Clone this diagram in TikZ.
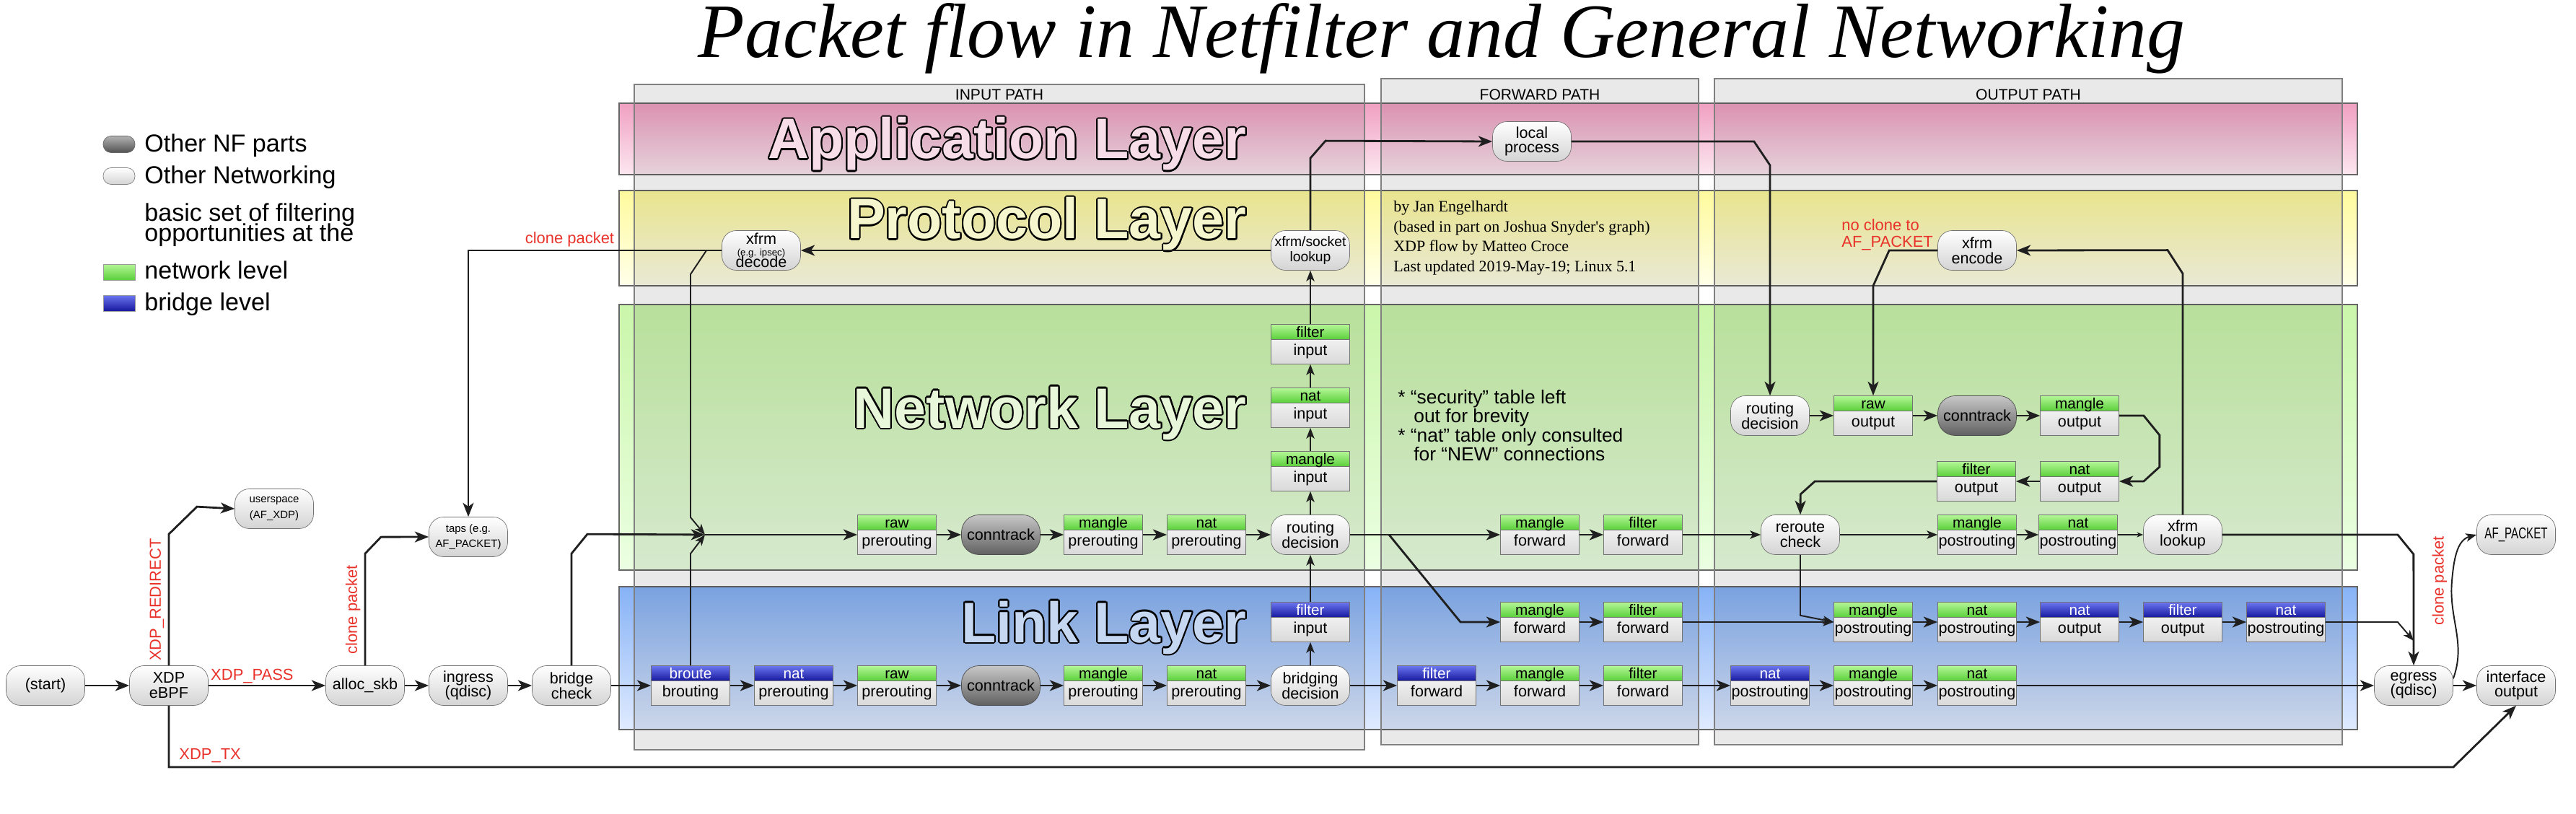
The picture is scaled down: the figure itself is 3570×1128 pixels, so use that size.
\documentclass[tikz,border=0pt]{standalone}
\usepackage{fontspec}
\setmainfont{Liberation Sans}
\newfontfamily\serifface{Liberation Serif}
\usepackage{graphicx}
\usepackage{contour}
\usetikzlibrary{arrows.meta,positioning}

\definecolor{xdpred}{HTML}{E8322A}
\definecolor{nftop}{HTML}{B4F696}
\definecolor{nfbot}{HTML}{5ACF3A}
\definecolor{brtop}{HTML}{6C76F0}
\definecolor{brbot}{HTML}{16189E}
\definecolor{appltop}{HTML}{F0A0C2}
\definecolor{applbot}{HTML}{FCE7F0}
\definecolor{applfont}{HTML}{F7DDE8}
\definecolor{prottop}{HTML}{FFFA9C}
\definecolor{protbot}{HTML}{FFFFEA}
\definecolor{protfont}{HTML}{F5F5CE}
\definecolor{nettop}{HTML}{CAF6AA}
\definecolor{netbot}{HTML}{EBFFE2}
\definecolor{netfont}{HTML}{E8F6DA}
\definecolor{linktop}{HTML}{86B2F6}
\definecolor{linkbot}{HTML}{E0EBFF}
\definecolor{linkfont}{HTML}{C6D7F2}

\contourlength{1.15pt}

\tikzset{
  pill/.style={rectangle, rounded corners=0.4cm, draw=black!55, top color=white, bottom color=black!17,
    minimum width=2.18cm, minimum height=1.1cm, inner sep=1pt, align=center,
    font=\fontsize{12.3pt}{11.8pt}\selectfont},
  smallpill/.style={pill, font=\fontsize{8.5pt}{12pt}\selectfont},
  nfpart/.style={pill, rounded corners=0.48cm, draw=black!70, top color=black!22, bottom color=black!62},
  hookbody/.style={rectangle, draw=black!55, top color=white, bottom color=black!15,
    minimum width=2.18cm, inner xsep=0.5pt, inner ysep=0pt, text height=0.86cm, text depth=0.24cm,
    font=\fontsize{12.3pt}{12.3pt}\selectfont},
  hookhead/.style={rectangle, draw=black!55, anchor=north, minimum width=2.18cm, minimum height=0.42cm,
    inner sep=0pt, text height=0.36cm, text depth=0.06cm, font=\fontsize{11.8pt}{11.8pt}\selectfont},
  nfhead/.style={hookhead, top color=nftop, bottom color=nfbot},
  brhead/.style={hookhead, top color=brtop, bottom color=brbot, text=white},
  mainflow/.style={draw=black!88, line width=1.6pt, -{Stealth[length=11pt,width=8.5pt,inset=3pt]}},
  sideflow/.style={draw=black!88, line width=1.1pt, -{Stealth[length=8.5pt,width=6.5pt,inset=2.2pt]}},
  slimflow/.style={draw=black!88, line width=0.6pt, -{Stealth[length=5pt,width=4pt]}},
  xdplabel/.style={text=xdpred, font=\fontsize{12.5pt}{12.5pt}\selectfont, inner sep=0pt},
  panel/.style={fill=black, fill opacity=0.085, draw=black!50, line width=0.7pt},
  bandline/.style={draw=black!60, line width=0.8pt},
  layertitle/.style={anchor=base east, inner sep=0pt, font=\fontsize{45pt}{45pt}\selectfont\bfseries},
  pathhead/.style={anchor=base, inner sep=0pt, font=\fontsize{12pt}{12pt}\selectfont},
  notetext/.style={anchor=base west, inner sep=0pt, font=\fontsize{15pt}{15pt}\selectfont},
  authortext/.style={anchor=base west, inner sep=0pt, font=\serifface\fontsize{12.5pt}{12.5pt}\selectfont},
  legtext/.style={anchor=base west, inner sep=0pt, font=\fontsize{19.4pt}{19.4pt}\selectfont},
  legpill/.style={rectangle, rounded corners=0.22cm, draw=black!50, top color=white, bottom color=black!17,
    minimum width=0.88cm, minimum height=0.46cm, inner sep=0pt},
  legbox/.style={rectangle, draw=black!40, minimum width=0.88cm, minimum height=0.44cm, inner sep=0pt},
}

% #1 name, #2 position, #3 table, #4 chain, #5 header style
\newcommand{\chainbox}[5]{%
  \node[hookbody] (#1) at (#2) {#4};
  \node[#5] (#1-t) at (#1.north) {#3};}

\begin{document}
\begin{tikzpicture}[x=0.02cm,y=-0.02cm]
\useasboundingbox (0,0) rectangle (3570,1128);

% layer bands
\shade[top color=appltop, bottom color=applbot] (858,143) rectangle (3267,242);
\draw[bandline] (858,143) rectangle (3267,242);
\shade[top color=prottop, bottom color=protbot] (858,264) rectangle (3267,396);
\draw[bandline] (858,264) rectangle (3267,396);
\shade[top color=nettop, bottom color=netbot] (858,422) rectangle (3267,790);
\draw[bandline] (858,422) rectangle (3267,790);
\shade[top color=linktop, bottom color=linkbot] (858,813) rectangle (3267,1011);
\draw[bandline] (858,813) rectangle (3267,1011);

% path columns
\filldraw[panel] (879,117) rectangle (1891,1039);
\filldraw[panel] (1914,109) rectangle (2354,1032);
\filldraw[panel] (2376,109) rectangle (3246,1032);
\node[pathhead] (inhead) at (1385,139) {INPUT PATH};
\node[pathhead] (fwdhead) at (2134,139) {FORWARD PATH};
\node[pathhead] (outhead) at (2811,139) {OUTPUT PATH};

% layer names
\node[layertitle] (applayer) at (1728,220) {\color{applfont}\contour{black}{Application Layer}};
\node[layertitle] (protlayer) at (1728,331) {\color{protfont}\contour{black}{Protocol Layer}};
\node[layertitle] (netlayer) at (1728,593) {\color{netfont}\contour{black}{Network Layer}};
\node[layertitle] (linklayer) at (1728,890) {\color{linkfont}\contour{black}{Link Layer}};

% title
\node[anchor=base, inner sep=0pt] (title) at (1998,80)
  {\resizebox{41.2cm}{1.5cm}{\serifface\itshape Packet flow in Netfilter and General Networking}};

% legend
\node[legpill, top color=black!30, bottom color=black!68, draw=black!60] (legnf) at (165,200) {};
\node[legtext] (legnftext) at (200,211) {Other NF parts};
\node[legpill] (legnet) at (165,244) {};
\node[legtext] (legnettext) at (200,255) {Other Networking};
\node[legtext] (legbasic) at (200,307) {basic set of filtering};
\node[legtext] (legopp) at (200,335) {opportunities at the};
\node[legbox, top color=nftop, bottom color=nfbot] (legnetlvl) at (165,377) {};
\node[legtext] (legnetlvltext) at (200,387) {network level};
\node[legbox, top color=brtop, bottom color=brbot] (legbrlvl) at (165,420) {};
\node[legtext] (legbrlvltext) at (200,431) {bridge level};

% notes
\node[authortext] (au1) at (1931,294) {by Jan Engelhardt};
\node[authortext] (au2) at (1931,322) {(based in part on Joshua Snyder's graph)};
\node[authortext] (au3) at (1931,349) {XDP flow by Matteo Croce};
\node[authortext] (au4) at (1931,377) {Last updated 2019-May-19; Linux 5.1};
\node[notetext] (note1) at (1937,559) {* “security” table left};
\node[notetext] (note2) at (1959,585) {out for brevity};
\node[notetext] (note3) at (1937,612) {* “nat” table only consulted};
\node[notetext] (note4) at (1959,638) {for “NEW” connections};
\node[xdplabel, anchor=base west] (noclone1) at (2552,320) {no clone to};
\node[xdplabel, anchor=base west] (noclone2) at (2552,343) {AF\_PACKET};

% ingress side
\node[pill] (start) at (63,950) {(start)};
\node[pill] (xdp) at (234,950) {XDP\\eBPF};
\node[pill] (alloc) at (506,950) {alloc\_skb};
\node[pill] (ingress) at (649,950) {ingress\\(qdisc)};
\node[pill] (brcheck) at (792,950) {bridge\\check};
\node[smallpill] (userspace) at (380,705) {userspace\\(AF\_XDP)};
\node[smallpill] (taps) at (649,744) {taps (e.g.\\AF\_PACKET)};

% input path
\chainbox{broute}{957,950}{broute}{brouting}{brhead}
\chainbox{lnatpre}{1100,950}{nat}{prerouting}{brhead}
\chainbox{lrawpre}{1243,950}{raw}{prerouting}{nfhead}
\node[nfpart] (lct) at (1387,950) {conntrack};
\chainbox{lmanglepre}{1529,950}{mangle}{prerouting}{nfhead}
\chainbox{lnatpre2}{1672,950}{nat}{prerouting}{nfhead}
\node[pill] (bridging) at (1816,950) {bridging\\decision};
\chainbox{lfilterin}{1816,862}{filter}{input}{brhead}
\chainbox{nrawpre}{1243,741}{raw}{prerouting}{nfhead}
\node[nfpart] (nct) at (1387,741) {conntrack};
\chainbox{nmanglepre}{1529,741}{mangle}{prerouting}{nfhead}
\chainbox{nnatpre}{1672,741}{nat}{prerouting}{nfhead}
\node[pill] (rtdec) at (1816,741) {routing\\decision};
\chainbox{nmanglein}{1816,653}{mangle}{input}{nfhead}
\chainbox{nnatin}{1816,565}{nat}{input}{nfhead}
\chainbox{nfilterin}{1816,477}{filter}{input}{nfhead}
\node[pill, font=\fontsize{11pt}{11.8pt}\selectfont] (lookup) at (1816,347) {xfrm/socket\\lookup};
\node[pill] (decode) at (1055,347)
  {xfrm\\[-2.6pt]{\fontsize{7.5pt}{7.5pt}\selectfont (e.g. ipsec)}\\[-2.6pt]decode};
\node[pill] (local) at (2123,196) {local\\process};

% forward path
\chainbox{nmanglefwd}{2134,741}{mangle}{forward}{nfhead}
\chainbox{nfilterfwd}{2277,741}{filter}{forward}{nfhead}
\chainbox{lmanglefwd}{2134,862}{mangle}{forward}{nfhead}
\chainbox{lfilterfwd}{2277,862}{filter}{forward}{nfhead}
\chainbox{bfilterfwd}{1991,950}{filter}{forward}{brhead}
\chainbox{bmanglefwd}{2134,950}{mangle}{forward}{nfhead}
\chainbox{bfilterfwd2}{2277,950}{filter}{forward}{nfhead}

% output path
\node[pill] (ortdec) at (2453,576) {routing\\decision};
\chainbox{orawout}{2596,576}{raw}{output}{nfhead}
\node[nfpart] (oct) at (2740,576) {conntrack};
\chainbox{omangleout}{2882,576}{mangle}{output}{nfhead}
\chainbox{onatout}{2882,667}{nat}{output}{nfhead}
\chainbox{ofilterout}{2739,667}{filter}{output}{nfhead}
\node[pill] (reroute) at (2495,741) {reroute\\check};
\chainbox{omanglepost}{2740,741}{mangle}{postrouting}{nfhead}
\chainbox{onatpost}{2880,741}{nat}{postrouting}{nfhead}
\node[pill] (xlookup) at (3025,741) {xfrm\\lookup};
\node[pill] (encode) at (2740,347) {xfrm\\encode};
\chainbox{lmanglepost}{2596,862}{mangle}{postrouting}{nfhead}
\chainbox{lnatpost}{2740,862}{nat}{postrouting}{nfhead}
\chainbox{lnatout}{2882,862}{nat}{output}{brhead}
\chainbox{lfilterout}{3025,862}{filter}{output}{brhead}
\chainbox{lnatpost2}{3168,862}{nat}{postrouting}{brhead}
\chainbox{bnatpost}{2453,950}{nat}{postrouting}{brhead}
\chainbox{bmanglepost}{2596,950}{mangle}{postrouting}{nfhead}
\chainbox{bnatpost2}{2740,950}{nat}{postrouting}{nfhead}
\node[pill] (egress) at (3345,950) {egress\\(qdisc)};
\node[pill] (ifout) at (3487,950) {interface\\output};
\node[pill] (afpacket) at (3487,741) {\scalebox{0.7}[1]{AF\_PACKET}};

\coordinate (dsplit) at (979,347);
\coordinate (merge) at (977,741);
\coordinate (fsplit) at (1925,741);
\coordinate (egjoin) at (3345,888);

% XDP and ingress
\draw[mainflow] (start) -- (xdp);
\draw[mainflow] (xdp) -- (alloc)
  node[xdplabel, pos=0, anchor=base west, xshift=0.04cm, yshift=0.16cm] {XDP\_PASS};
\draw[mainflow] (xdp.north) -- ++(0,-182)
  node[xdplabel, midway, rotate=90, anchor=south, inner sep=3pt] {XDP\_REDIRECT}
  -- ++(39,-38) -- (userspace.west);
\draw[mainflow] (xdp.south) |- (3400,1063)
  node[xdplabel, pos=0.5, anchor=south west, xshift=0.26cm, yshift=0.1cm] {XDP\_TX}
  -- (ifout.south);
\draw[mainflow] (alloc) -- (ingress);
\draw[mainflow] (ingress) -- (brcheck);
\draw[mainflow] (alloc.north) -- ++(0,-155)
  node[xdplabel, midway, rotate=90, anchor=south, inner sep=3pt] {clone packet}
  -- ++(22,-23) -- (taps.west);
\draw[mainflow] (decode.west) -| (taps.north)
  node[xdplabel, pos=0.3, anchor=south, inner sep=2pt] {clone packet};

% input path
\draw[sideflow] (dsplit) -- ++(-22,33) -- ++(0,337) -- (merge);
\draw[mainflow] (brcheck.north) -- ++(0,-155) -- ++(22,-27) -- (merge);
\draw[sideflow] (broute.north) -- ++(0,-155) -- (merge);
\draw[mainflow] (merge) -- (nrawpre);
\draw[mainflow] (nrawpre) -- (nct);
\draw[mainflow] (nct) -- (nmanglepre);
\draw[mainflow] (nmanglepre) -- (nnatpre);
\draw[mainflow] (nnatpre) -- (rtdec);
\draw[sideflow] (rtdec) -- (nmanglein);
\draw[sideflow] (nmanglein) -- (nnatin);
\draw[sideflow] (nnatin) -- (nfilterin);
\draw[sideflow] (nfilterin) -- (lookup);
\draw[mainflow] (lookup) -- (decode);
\draw[mainflow] (lookup.north) -- ++(0,-100) -- ++(21,-24) -- (local.west);
\draw[mainflow] (brcheck) -- (broute);
\draw[mainflow] (broute) -- (lnatpre);
\draw[mainflow] (lnatpre) -- (lrawpre);
\draw[mainflow] (lrawpre) -- (lct);
\draw[mainflow] (lct) -- (lmanglepre);
\draw[mainflow] (lmanglepre) -- (lnatpre2);
\draw[mainflow] (lnatpre2) -- (bridging);
\draw[sideflow] (bridging) -- (lfilterin);
\draw[sideflow] (lfilterin) -- (rtdec);

% forward path
\draw[mainflow] (rtdec) -- (nmanglefwd);
\draw[mainflow] (fsplit) -- ++(99,121) -- (lmanglefwd.west);
\draw[mainflow] (nmanglefwd) -- (nfilterfwd);
\draw[sideflow] (nfilterfwd) -- (reroute);
\draw[mainflow] (lmanglefwd) -- (lfilterfwd);
\draw[sideflow] (lfilterfwd) -- (lmanglepost);
\draw[mainflow] (bridging) -- (bfilterfwd);
\draw[mainflow] (bfilterfwd) -- (bmanglefwd);
\draw[mainflow] (bmanglefwd) -- (bfilterfwd2);
\draw[mainflow] (bfilterfwd2) -- (bnatpost);

% output path
\draw[mainflow] (local.east) -- ++(253,0) -- (ortdec.north |- 0,229) -- (ortdec.north);
\draw[mainflow] (ortdec) -- (orawout);
\draw[mainflow] (orawout) -- (oct);
\draw[mainflow] (oct) -- (omangleout);
\draw[mainflow] (omangleout.east) -- ++(34,0) -- ++(22,27) -- ++(0,44) -- ++(-22,20) -- (onatout.east);
\draw[mainflow] (onatout) -- (ofilterout);
\draw[mainflow] (ofilterout.west) -- ++(-169,0) -- ++(-20,18) -- (reroute.north);
\draw[mainflow] (encode.west) -- ++(-67,0) -- (orawout.north |- 0,396) -- (orawout.north);
\draw[mainflow] (xlookup.north) -- ++(0,-334) -- ++(-21,-32.5) -- (encode.east);
\draw[sideflow] (reroute) -- (omanglepost);
\draw[mainflow] (omanglepost) -- (onatpost);
\draw[slimflow] (onatpost) -- (xlookup);
\draw[mainflow] (xlookup.east) -- ++(243,0) -- ++(22,27) -- (egress.north);
\draw[sideflow] (reroute.south) -- ++(0,84) -- (lmanglepost.west);
\draw[mainflow] (lmanglepost) -- (lnatpost);
\draw[mainflow] (lnatpost) -- (lnatout);
\draw[mainflow] (lnatout) -- (lfilterout);
\draw[mainflow] (lfilterout) -- (lnatpost2);
\draw[sideflow] (lnatpost2.east) -- ++(100,0) -- (egjoin);
\draw[mainflow] (bnatpost) -- (bmanglepost);
\draw[mainflow] (bmanglepost) -- (bnatpost2);
\draw[mainflow] (bnatpost2) -- (egress);
\draw[mainflow] (egress) -- (ifout);
\draw[sideflow] (egress.10) to[out=70,in=-95] (3398,805) to[out=85,in=195] (afpacket.west);
\node[xdplabel, rotate=90] (clonelbl) at (3381,805) {clone packet};

\end{tikzpicture}
\end{document}
